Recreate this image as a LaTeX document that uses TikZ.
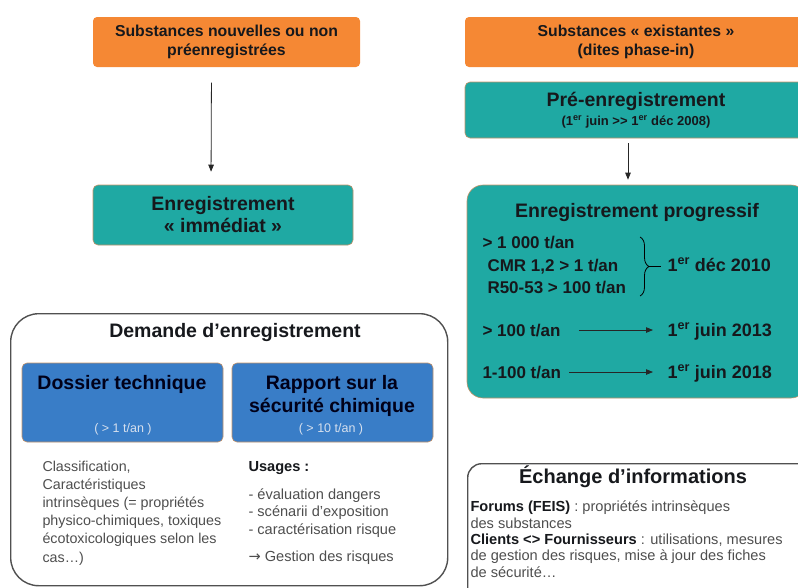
\documentclass[tikz,border=0pt]{standalone}
\usepackage{fontspec}
\setmainfont{Liberation Sans}
\newfontfamily\arrowfont{DejaVu Sans}
\usetikzlibrary{positioning, arrows.meta, decorations.pathreplacing}

\definecolor{substorange}{RGB}{245,136,52}
\definecolor{stageteal}{RGB}{31,169,163}
\definecolor{dossblue}{RGB}{57,125,199}
\definecolor{boxedge}{RGB}{196,146,104}
\definecolor{framegrey}{RGB}{80,80,80}
\definecolor{inktext}{RGB}{22,24,28}
\definecolor{softtext}{RGB}{78,78,78}
\definecolor{paletext}{RGB}{214,224,238}

\newcommand{\setfs}[2]{\fontsize{#1}{#2}\selectfont}

\begin{document}
\begin{tikzpicture}[x=1pt, y=-1pt, line width=1pt,
    substbox/.style={fill=substorange, draw=none, rounded corners=4pt, minimum height=50pt, align=center, text=inktext, font=\bfseries\setfs{15.8}{18.5}},
    stagebox/.style={fill=stageteal, draw=boxedge, line width=0.6pt, rounded corners=5pt, align=center, text=inktext, font=\bfseries\setfs{19.5}{22}},
    dossbox/.style={fill=dossblue, draw=boxedge, line width=0.6pt, rounded corners=5pt, minimum width=201pt, minimum height=79pt},
    groupbox/.style={draw=framegrey, line width=1.4pt, rounded corners=28pt, anchor=north west},
    lbl/.style={inner sep=0pt, text=inktext},
    bandfont/.style={font=\bfseries\setfs{17}{20}},
    datefont/.style={font=\bfseries\setfs{18}{20}},
    bluefont/.style={font=\bfseries\setfs{19.5}{22}, text=black!90!blue},
    flow/.style={-{Triangle[length=7pt,width=5.5pt]}, line width=0.8pt, draw=black!85}]

  \useasboundingbox (0,0) rectangle (798,587);

  \node[substbox, minimum width=267pt] (newsub) at (226.5,42) {Substances nouvelles ou non\\préenregistrées};
  \node[substbox, minimum width=342pt] (oldsub) at (636,42) {Substances « existantes »\\(dites phase-in)};

  \node[stagebox, minimum width=260pt, minimum height=60pt] (immed) at (223,215) {Enregistrement\\« immédiat »};
  \node[stagebox, minimum width=342pt, minimum height=56pt] (preenr) at (636,110) {Pré-enregistrement\\[-3pt]{\setfs{13}{15}(1\textsuperscript{er} juin >{}> 1\textsuperscript{er} déc 2008)}};
  \node[stagebox, minimum width=340pt, minimum height=213pt, rounded corners=16pt] (progr) at (637,291.5) {};

  \draw[flow, shorten <=15pt, shorten >=13pt] ([xshift=-15pt]newsub.south) -- ([xshift=-12pt]immed.north);
  \draw[flow, shorten <=5pt, shorten >=5pt] ([xshift=-8pt]preenr.south) -- ([xshift=-9pt]progr.north);

  \node[lbl, font=\bfseries\setfs{19.5}{22}, anchor=base] (progtitle) at (637,217) {Enregistrement progressif};
  \node[lbl, bandfont, anchor=base west] (over1000) at (482,248) {> 1 000 t/an};
  \node[lbl, bandfont, anchor=base west] (cmr) at (487,271) {CMR 1,2 > 1 t/an};
  \node[lbl, bandfont, anchor=base west] (r5053) at (487,293) {R50-53 > 100 t/an};
  \node[lbl, datefont, anchor=base west] (dec2010) at (667,271) {1\textsuperscript{er} déc 2010};
  \node[lbl, bandfont, anchor=base west] (over100) at (482,336) {> 100 t/an};
  \node[lbl, datefont, anchor=base west] (juin2013) at (667,336) {1\textsuperscript{er} juin 2013};
  \node[lbl, bandfont, anchor=base west] (band1to100) at (482,378) {1-100 t/an};
  \node[lbl, datefont, anchor=base west] (juin2018) at (667,378) {1\textsuperscript{er} juin 2018};

  \draw[line width=0.8pt, decorate, decoration={brace, amplitude=9pt}] (640,237) -- (640,296);
  \coordinate (bracetip) at (649,266.5);
  \draw[line width=0.8pt, shorten >=6pt] (bracetip) -- (bracetip -| dec2010.west);
  \draw[flow, shorten <=18pt, shorten >=14pt] (over100.east) -- (over100.east -| juin2013.west);
  \draw[flow, shorten <=8pt, shorten >=14pt] (band1to100.east) -- (band1to100.east -| juin2018.west);

  \node[groupbox, minimum width=437pt, minimum height=272pt] (demande) at (10,313) {};
  \node[lbl, font=\bfseries\setfs{19.5}{22}, anchor=base] (demtitle) at (235,337) {Demande d'enregistrement};
  \node[dossbox] (dossier) at (122.5,402.5) {};
  \node[dossbox] (rapport) at (332.5,402.5) {};
  \node[lbl, bluefont, anchor=base] (dosstitle) at (122,389) {Dossier technique};
  \node[lbl, bluefont, anchor=base] (rappline1) at (332,389) {Rapport sur la};
  \node[lbl, bluefont, anchor=base] (rappline2) at (332,412) {sécurité chimique};
  \node[lbl, text=paletext, font=\setfs{12.5}{14}, anchor=base] (dosston) at (123,432) {( > 1 t/an )};
  \node[lbl, text=paletext, font=\setfs{12.5}{14}, anchor=base] (rappton) at (331,432) {( > 10 t/an )};

  \node[lbl, text=softtext, font=\setfs{14.3}{18.2}, align=left, anchor=base west] (dosstext) at (42,562) {Classification,\\Caractéristiques\\intrinsèques (= propriétés\\physico-chimiques, toxiques\\écotoxicologiques selon les\\cas…)};
  \node[lbl, text=softtext, font=\setfs{14.6}{17.5}, align=left, anchor=base west] (usagetext) at (248,561) {{\bfseries\color{inktext}Usages :}\\[10.5pt]- évaluation dangers\\- scénarii d'exposition\\- caractérisation risque\\[9.5pt]{\arrowfont →} Gestion des risques};

  \node[groupbox, rounded corners=14pt, minimum width=345pt, minimum height=140pt] (echange) at (467,463) {};
  \node[lbl, font=\bfseries\setfs{20}{22}, anchor=base] (echtitle) at (633,483) {Échange d’informations};
  \node[lbl, text=softtext, font=\setfs{14.6}{16.3}, align=left, anchor=base west] (echtext) at (470,577) {{\bfseries\color{inktext}Forums (FEIS)} : propriétés intrinsèques\\des substances\\{\bfseries\color{inktext}Clients <> Fournisseurs} : utilisations, mesures\\de gestion des risques, mise à jour des fiches\\de sécurité…};
\end{tikzpicture}
\end{document}
